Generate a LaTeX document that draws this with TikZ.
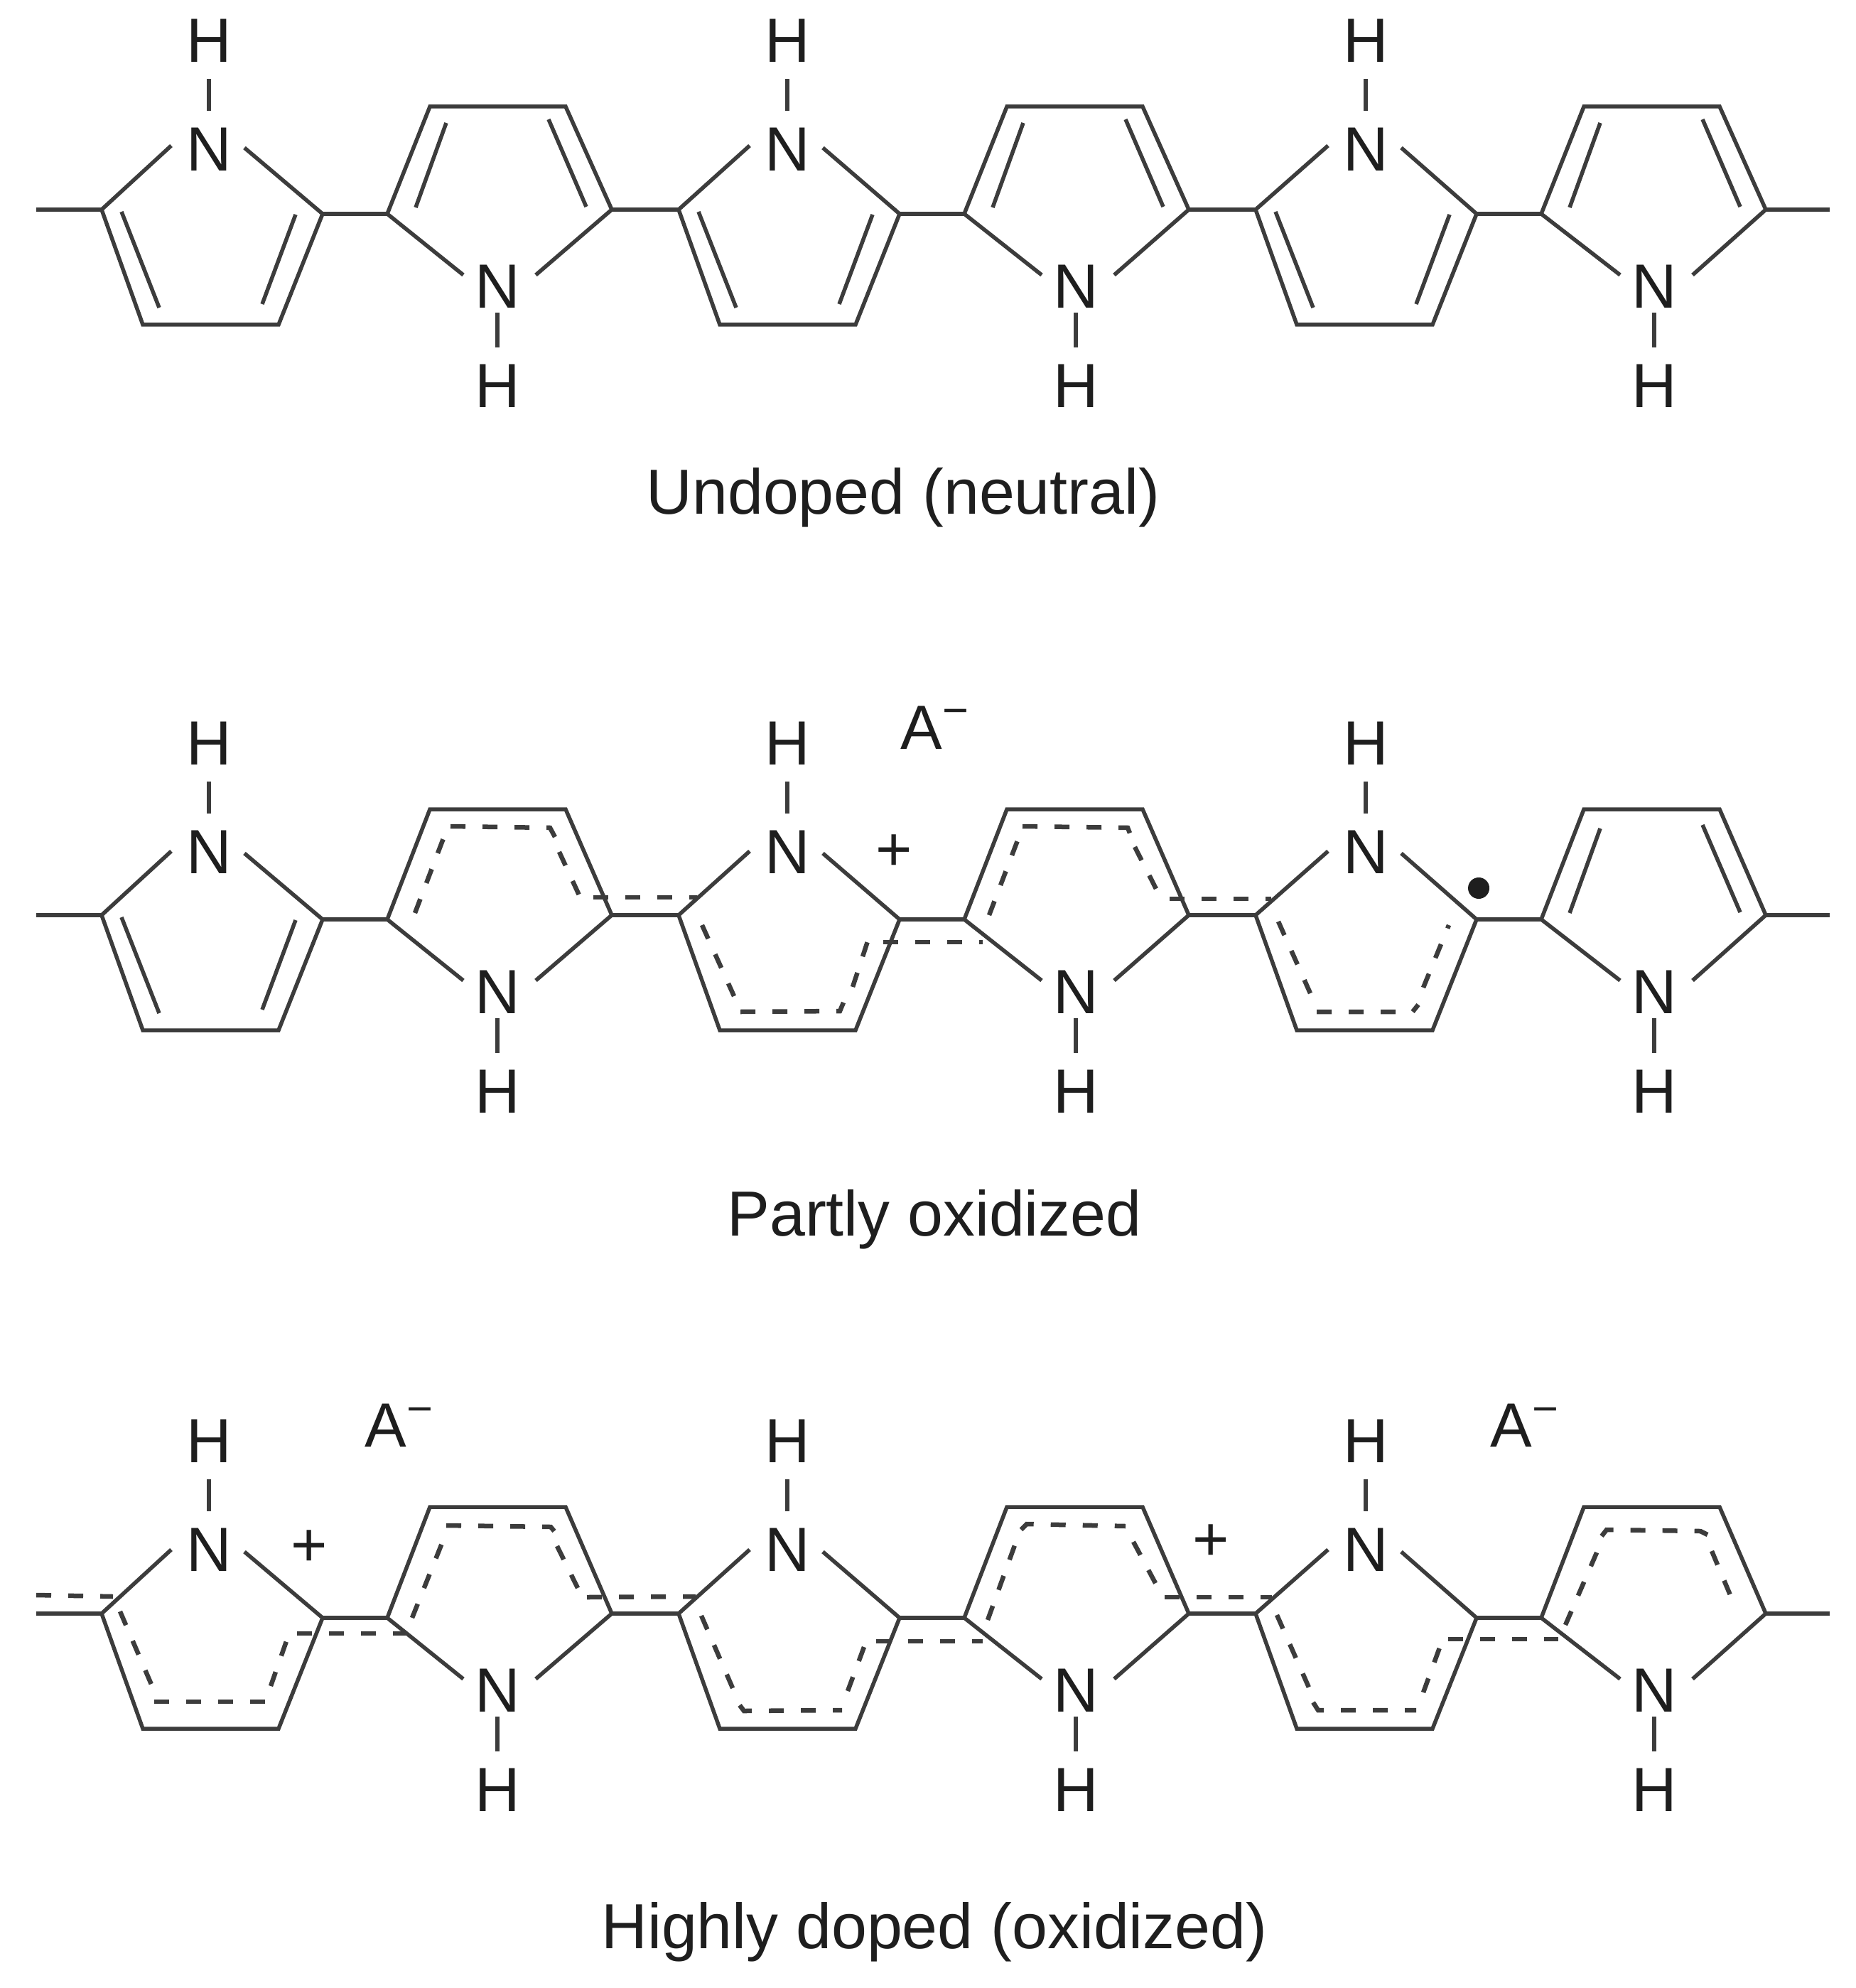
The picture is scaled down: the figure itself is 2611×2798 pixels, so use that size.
\documentclass[tikz,border=0pt]{standalone}
\usepackage{fontspec}
\setmainfont{Liberation Sans}
\definecolor{bondcol}{HTML}{3C3C3C}
\definecolor{textcol}{HTML}{1E1E1E}
\tikzset{
    bond/.style = {draw = bondcol, line width = 0.055cm},
    lowbond/.style = {bond, shorten <= -0.17cm},
    dashbond/.style = {draw = bondcol, line width = 0.065cm, dash pattern = on 0.21cm off 0.24cm},
    atom/.style = {inner xsep = 0pt, inner ysep = 0.24cm, outer sep = 0pt, text = textcol, font = \fontsize{25}{30}\selectfont},
    ion/.style = {inner sep = 0pt, text = textcol, anchor = base west, font = \fontsize{25}{30}\selectfont},
    charge/.style = {inner sep = 0pt, text = textcol, font = \fontsize{25}{30}\selectfont},
    rowlabel/.style = {inner sep = 0pt, text = textcol, font = \fontsize{25.5}{30}\selectfont},
    radical/.style = {circle, fill = textcol, inner sep = 0pt, minimum size = 0.3cm}
}
\newcommand{\minussign}{\raisebox{0.32cm}{\fontsize{18}{20}\selectfont −}}
\begin{document}
\begin{tikzpicture}[x = 0.01cm, y = -0.01cm]
    \useasboundingbox (0, 0) rectangle (2611, 2798);

    % the three chains
    \foreach \row/\yy/\ru in {a/0/0, b/993/-4, c/1976/-5} {
        \coordinate (\row start) at (51, 295 + \yy);
        \coordinate (\row end) at (2575, 295 + \yy);
        \foreach \k [evaluate = \k as \xx using int(812 * \k), evaluate = \k as \xn using int(814 * \k)] in {0, 1, 2} {
            \coordinate (\row ul\k) at (143 + \xx, 295 + \yy);
            \coordinate (\row ubl\k) at (201 + \xx, 457 + \yy);
            \coordinate (\row ubr\k) at (392 + \xx, 457 + \yy);
            \coordinate (\row ur\k) at (454 + \xx, 301 + \yy);
            \coordinate (\row ntl\k) at (241 + \xn, 205 + \yy);
            \coordinate (\row ntr\k) at (344 + \xn, 208 + \yy);
            \coordinate (\row dl\k) at (545 + \xx, 301 + \yy);
            \coordinate (\row dtl\k) at (605 + \xx, 150 + \yy + \ru);
            \coordinate (\row dtr\k) at (796 + \xx, 150 + \yy + \ru);
            \coordinate (\row dr\k) at (861 + \xx, 295 + \yy);
            \coordinate (\row nbl\k) at (652 + \xn, 387 + \yy);
            \coordinate (\row nbr\k) at (754 + \xn, 387 + \yy);

            \node[atom] (\row nt\k) at (294 + \xn, 210 + \yy + \ru) {N};
            \node[atom] (\row ht\k) at (294 + \xn, 57 + \yy + \ru) {H};
            \node[atom] (\row nb\k) at (700 + \xn, 403 + \yy) {N};
            \node[atom] (\row hb\k) at (700 + \xn, 543 + \yy) {H};

            \draw[bond] (\row nt\k) -- (\row ht\k);
            \draw[lowbond] (\row nb\k) -- (\row hb\k);
            \draw[bond] (\row ntl\k) -- (\row ul\k) -- (\row ubl\k) -- (\row ubr\k) -- (\row ur\k) -- (\row ntr\k);
            \draw[bond] (\row nbl\k) -- (\row dl\k) -- (\row dtl\k) -- (\row dtr\k) -- (\row dr\k) -- (\row nbr\k);
            \draw[bond] (\row ur\k) -- (\row dl\k);
        }
        \draw[bond] (\row start) -- (\row ul0);
        \draw[bond] (\row dr0) -- (\row ul1);
        \draw[bond] (\row dr1) -- (\row ul2);
        \draw[bond] (\row dr2) -- (\row end);
    }

    % plain double bonds
    \foreach \yy/\k in {0/0, 0/1, 0/2, 993/0} {
        \draw[bond] (171 + 812 * \k, 298 + \yy) -- (224 + 812 * \k, 433 + \yy);
        \draw[bond] (416 + 812 * \k, 302 + \yy) -- (369 + 812 * \k, 428 + \yy);
    }
    \foreach \yy/\k in {0/0, 0/1, 0/2, 993/2} {
        \draw[bond] (628 + 812 * \k, 173 + \yy) -- (585 + 812 * \k, 292 + \yy);
        \draw[bond] (772 + 812 * \k, 168 + \yy) -- (825 + 812 * \k, 291 + \yy);
    }

    % partly oxidized
    \draw[dashbond] (584, 1285) -- (624, 1180);
    \draw[dashbond] (634, 1163) -- (774, 1165) -- (781, 1178);
    \draw[dashbond] (787, 1199) -- (816, 1262);
    \draw[dashbond] (835, 1263) -- (981, 1263);
    \draw[dashbond] (988, 1302) -- (1033, 1402);
    \draw[dashbond] (1042, 1424) -- (1182, 1423) -- (1187, 1411);
    \draw[dashbond] (1200, 1389) -- (1221, 1325);
    \draw[dashbond] (1243, 1326) -- (1383, 1326);
    \draw[dashbond] (1392, 1288) -- (1432, 1183);
    \draw[dashbond] (1439, 1163) -- (1587, 1165) -- (1591, 1175);
    \draw[dashbond] (1597, 1192) -- (1628, 1253);
    \draw[dashbond] (1646, 1265) -- (1789, 1265);
    \draw[dashbond] (1799, 1297) -- (1844, 1398);
    \draw[dashbond] (1853, 1424) -- (1988, 1424) -- (1996, 1414);
    \draw[dashbond] (2003, 1390) -- (2039, 1302);

    % highly doped
    \draw[dashbond] (51, 2245) -- (159, 2247);
    \draw[dashbond] (169, 2268) -- (214, 2373);
    \draw[dashbond] (217, 2395) -- (373, 2395);
    \draw[dashbond] (381, 2373) -- (403, 2310);
    \draw[dashbond] (418, 2299) -- (571, 2299);
    \draw[dashbond] (580, 2277) -- (622, 2172);
    \draw[dashbond] (628, 2147) -- (775, 2149) -- (780, 2155);
    \draw[dashbond] (784, 2176) -- (813, 2235);
    \draw[dashbond] (826, 2248) -- (979, 2247);
    \draw[dashbond] (987, 2274) -- (1032, 2378);
    \draw[dashbond] (1041, 2400) -- (1047, 2408) -- (1185, 2407);
    \draw[dashbond] (1193, 2380) -- (1216, 2318);
    \draw[dashbond] (1233, 2310) -- (1383, 2310);
    \draw[dashbond] (1390, 2280) -- (1428, 2175);
    \draw[dashbond] (1437, 2153) -- (1445, 2145) -- (1584, 2148);
    \draw[dashbond] (1595, 2170) -- (1627, 2230);
    \draw[dashbond] (1639, 2248) -- (1790, 2248);
    \draw[dashbond] (1797, 2273) -- (1842, 2375);
    \draw[dashbond] (1848, 2396) -- (1855, 2407) -- (1993, 2407);
    \draw[dashbond] (2003, 2382) -- (2026, 2319);
    \draw[dashbond] (2038, 2307) -- (2193, 2307);
    \draw[dashbond] (2203, 2287) -- (2248, 2183);
    \draw[dashbond] (2254, 2162) -- (2261, 2153) -- (2393, 2155) -- (2403, 2160);
    \draw[dashbond] (2409, 2183) -- (2435, 2245);

    % charges
    \node[ion] (ionb) at (1267, 1054) {A\minussign};
    \node[ion] (ionca) at (513, 2036) {A\minussign};
    \node[ion] (ioncb) at (2097, 2036) {A\minussign};
    \node[charge] (plusb) at (1258, 1200) {+};
    \node[charge] (plusca) at (435, 2179) {+};
    \node[charge] (pluscb) at (1704, 2171) {+};
    \node[radical] (dot) at (2081, 1250) {};

    \node[rowlabel] (labela) at (1271, 700) {Undoped (neutral)};
    \node[rowlabel] (labelb) at (1315, 1716) {Partly oxidized};
    \node[rowlabel] (labelc) at (1315, 2719) {Highly doped (oxidized)};
\end{tikzpicture}
\end{document}
